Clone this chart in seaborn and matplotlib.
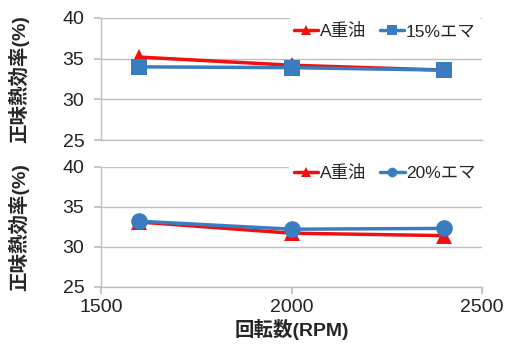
import matplotlib
matplotlib.use("Agg")
import matplotlib.pyplot as plt
import seaborn as sns
import pandas as pd

sns.set_theme(style="white")
plt.rcParams['font.family'] = ['Liberation Sans', 'Noto Sans CJK JP', 'DejaVu Sans']

rpm = [1600, 2000, 2400]
a_heavy_top = [35.2, 34.2, 33.6]
ema15 = [34.0, 33.9, 33.6]
a_heavy_bottom = [33.1, 31.7, 31.4]
ema20 = [33.2, 32.2, 32.3]

x_ticks = [1500, 2000, 2500]
y_ticks = [25, 30, 35, 40]
ylabel = "正味熱効率(%)"
xlabel = "回転数(RPM)"

RED = "#F01010"
BLUE = "#3A7CC0"
GRID = "#BFBFBF"

top = pd.DataFrame({"rpm": rpm * 2,
                    "eff": a_heavy_top + ema15,
                    "fuel": ["A重油"] * 3 + ["15%エマ"] * 3})
bottom = pd.DataFrame({"rpm": rpm * 2,
                       "eff": a_heavy_bottom + ema20,
                       "fuel": ["A重油"] * 3 + ["20%エマ"] * 3})

fig = plt.figure(figsize=(5.08, 3.46), dpi=100)
ax1 = fig.add_axes([0.199, 0.595, 0.750, 0.353])
ax2 = fig.add_axes([0.199, 0.171, 0.750, 0.347])


def draw(ax, df, second, marker2, size2):
    sns.lineplot(data=df, x="rpm", y="eff", hue="fuel", style="fuel",
                 hue_order=["A重油", second], style_order=["A重油", second],
                 palette=[RED, BLUE], markers=["^", marker2], dashes=False,
                 linewidth=2.5, markeredgewidth=0, ax=ax, legend=False)
    lines = ax.get_lines()
    lines[0].set_markersize(11)
    lines[1].set_markersize(size2)
    ax.set_xlim(1500, 2500)
    ax.set_ylim(25, 40)
    ax.set_yticks(y_ticks)
    ax.set_xticks(x_ticks)
    ax.grid(axis="y", color=GRID, linewidth=1)
    for s in ("top", "right"):
        ax.spines[s].set_visible(False)
    for s in ("left", "bottom"):
        ax.spines[s].set_color(GRID)
        ax.spines[s].set_linewidth(1)
    ax.tick_params(axis="y", left=True, length=5, color=GRID, labelsize=14,
                   labelcolor="#222222", pad=7)
    ax.set_ylabel(ylabel, fontsize=14, fontweight="bold")
    ax.yaxis.set_label_coords(-0.19, 0.5)
    ax.set_xlabel("")

    # compact legend with small markers on short lines
    h1 = plt.Line2D([], [], color=RED, marker="^", markersize=7,
                    linewidth=2.5, markeredgewidth=0)
    h2 = plt.Line2D([], [], color=BLUE, marker=marker2, markersize=7,
                    linewidth=2.5, markeredgewidth=0)
    return [h1, h2], ["A重油", second]


hs1, ls1 = draw(ax1, top, "15%エマ", "s", 12)
hs2, ls2 = draw(ax2, bottom, "20%エマ", "o", 12)

ax1.tick_params(axis="x", bottom=False, labelbottom=False)
ax2.tick_params(axis="x", bottom=True, length=5, color=GRID, labelsize=14,
                labelcolor="#222222", pad=4)
ax2.set_xlabel(xlabel, fontsize=14, fontweight="bold", labelpad=2)

for ax, hs, ls, y in ((ax1, hs1, ls1, 1.07), (ax2, hs2, ls2, 1.13)):
    ax.legend(hs, ls, loc="upper right", bbox_to_anchor=(1.02, y), ncol=2,
              frameon=True, facecolor="white", edgecolor="white",
              framealpha=1, fontsize=12.5, handlelength=1.4,
              handletextpad=0.1, columnspacing=0.8, borderpad=0.3)

fig.savefig("out.png", dpi=100)
